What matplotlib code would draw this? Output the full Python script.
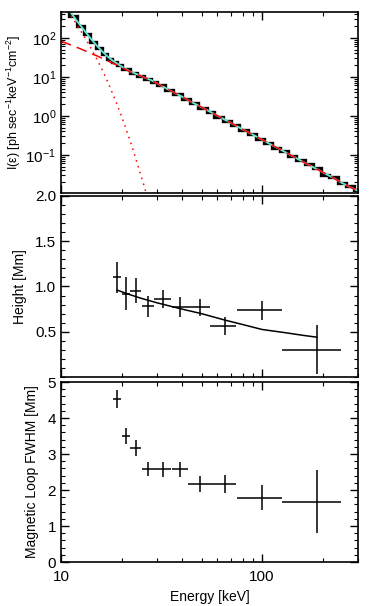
import numpy as np
import matplotlib
matplotlib.use("Agg")
from matplotlib import pyplot as plt
from matplotlib.ticker import LogLocator, FixedLocator, MultipleLocator, NullFormatter

# --- spectrum (top panel) ---
bin_edges = [10, 11, 12, 13, 14, 15, 16, 17, 18, 19, 20, 22, 24, 26, 28, 30, 33, 36, 40, 44,
             48, 53, 58, 64, 70, 77, 85, 93, 102, 112, 123, 135, 148, 163, 179, 197, 216,
             238, 261, 287, 300]
flux_obs = [700, 360, 205, 125, 79, 54, 39, 29.5, 24, 20, 16, 12.6, 10.5, 8.9, 7.5, 6.0,
            4.65, 3.56, 2.7, 2.1, 1.62, 1.25, 0.96, 0.74, 0.58, 0.43, 0.34, 0.26, 0.205,
            0.152, 0.123, 0.091, 0.073, 0.057, 0.046, 0.031, 0.027, 0.019, 0.0155, 0.0125]

model_e = [10, 11, 12, 13, 14, 15, 16, 17, 18, 19, 20, 21, 22, 23, 24, 25, 26, 27, 28,
           32, 36, 40, 45, 50, 56, 63, 70, 80, 90, 100, 112, 125, 140, 160, 180, 200,
           225, 250, 280, 300]
thermal = [900, 430, 215, 112, 58, 30, 15.5, 7.8, 3.9, 1.95, 0.98, 0.48, 0.24, 0.12,
           0.058, 0.029, 0.015, 0.0075]
nonthermal = [82, 68, 57, 48, 40, 35, 30, 26, 22.5, 20, 17.5, 15.5, 13.5, 12.5, 11.5,
              10.5, 9.6, 8.9, 8.3, 5.7, 4.1, 3.1, 2.2, 1.67, 1.22, 0.88, 0.66, 0.45,
              0.33, 0.244, 0.178, 0.132, 0.096, 0.066, 0.048, 0.036, 0.026, 0.019,
              0.0141, 0.012]

# --- source height / loop width vs energy ---
energy = [18.9, 21.0, 23.6, 27.0, 32.1, 39.1, 49.2, 65.5, 100, 187]
e_low = [18.2, 20.1, 22.1, 25.2, 29.1, 35.5, 43.0, 55.2, 75.1, 125]
e_high = [19.9, 22.1, 24.9, 29.0, 35.2, 43.0, 55.2, 74.1, 125, 248]
height = [1.10, 0.92, 0.955, 0.78, 0.857, 0.776, 0.77, 0.56, 0.735, 0.30]
height_err = [0.17, 0.18, 0.14, 0.12, 0.10, 0.11, 0.095, 0.10, 0.11, 0.27]
fit_e = [19, 22, 25, 30, 40, 50, 65, 80, 100, 130, 160, 187]
fit_height = [0.96, 0.91, 0.87, 0.82, 0.75, 0.70, 0.63, 0.58, 0.525, 0.49, 0.46, 0.44]
fwhm = [4.53, 3.51, 3.17, 2.59, 2.57, 2.57, 2.17, 2.17, 1.79, 1.68]
fwhm_err = [0.26, 0.22, 0.22, 0.20, 0.22, 0.22, 0.23, 0.24, 0.34, 0.88]

plt.rcParams['font.family'] = ['Liberation Sans', 'DejaVu Sans']
plt.rcParams['mathtext.fontset'] = 'custom'
plt.rcParams['mathtext.rm'] = 'Liberation Sans'
plt.rcParams['mathtext.it'] = 'Liberation Sans:italic'
plt.rcParams['mathtext.default'] = 'regular'

fig = plt.figure(figsize=(3.71, 6.06), dpi=100)
ax1 = fig.add_axes([0.1644, 0.6815, 0.8005, 0.2987])
ax2 = fig.add_axes([0.1644, 0.3779, 0.8005, 0.2987])
ax3 = fig.add_axes([0.1644, 0.0726, 0.8005, 0.2970])


def style(ax):
    ax.set_xscale('log')
    ax.set_xlim(10, 300)
    for s in ax.spines.values():
        s.set_linewidth(1.2)
    ax.tick_params(which='both', direction='in', top=True, right=True, labelsize=11)
    ax.tick_params(which='major', length=6, width=1.0)
    ax.tick_params(which='minor', length=3, width=0.8)
    ax.tick_params(axis='x', pad=6)
    ax.xaxis.set_major_locator(FixedLocator([10, 100]))
    ax.xaxis.set_minor_locator(FixedLocator([20, 30, 40, 50, 60, 70, 80, 90, 200, 300]))
    ax.xaxis.set_minor_formatter(NullFormatter())


for ax in (ax1, ax2, ax3):
    style(ax)

# top: spectrum
me = np.array(model_e)
nt = np.array(nonthermal)
total = nt.copy()
total[:len(thermal)] += np.array(thermal)
ax1.set_yscale('log')
ax1.set_ylim(0.0105, 460)
ax1.stairs(flux_obs, bin_edges, color='black', linewidth=2.4, baseline=None)
ax1.plot(me, total, color='#66e2cf', linewidth=1.4)
ax1.plot(me, nt, color='red', linewidth=1.1, linestyle=(0, (7, 4)))
ax1.plot(me[:len(thermal)], thermal, color='red', linewidth=1.1, linestyle=(0, (1, 3)))
ax1.yaxis.set_major_locator(FixedLocator([0.01, 0.1, 1, 10, 100]))
ax1.yaxis.set_minor_locator(LogLocator(base=10, subs=np.arange(2, 10)))
ax1.yaxis.set_minor_formatter(NullFormatter())
ax1.set_yticklabels(['', r'$10^{-1}$', r'$10^{0}$', r'$10^{1}$', r'$10^{2}$'])
ax1.set_xticklabels([])
ax1.set_ylabel(r'I($\epsilon$) [ph sec$^{-1}$keV$^{-1}$cm$^{-2}$]', fontsize=9, labelpad=2)

# middle: height
xerr = [np.array(energy) - np.array(e_low), np.array(e_high) - np.array(energy)]
ax2.errorbar(energy, height, yerr=height_err, xerr=xerr, fmt='none', ecolor='black',
             elinewidth=1.1, capsize=0)
ax2.plot(fit_e, fit_height, color='black', linewidth=1.1)
ax2.set_ylim(0, 2.0)
ax2.yaxis.set_major_locator(FixedLocator([0.5, 1.0, 1.5, 2.0]))
ax2.yaxis.set_minor_locator(MultipleLocator(0.1))
ax2.set_yticklabels(['0.5', '1.0', '1.5', '2.0'])
ax2.set_xticklabels([])
ax2.set_ylabel('Height [Mm]', fontsize=10, labelpad=6)

# bottom: FWHM
ax3.errorbar(energy, fwhm, yerr=fwhm_err, xerr=xerr, fmt='none', ecolor='black',
             elinewidth=1.1, capsize=0)
ax3.set_ylim(0, 5)
ax3.yaxis.set_major_locator(MultipleLocator(1))
ax3.yaxis.set_minor_locator(MultipleLocator(0.2))
ax3.set_xticklabels(['10', '100'])
ax3.set_xlabel('Energy [keV]', fontsize=10)
ax3.set_ylabel('Magnetic Loop FWHM [Mm]', fontsize=10, labelpad=6)

fig.savefig('out.png', dpi=100)
